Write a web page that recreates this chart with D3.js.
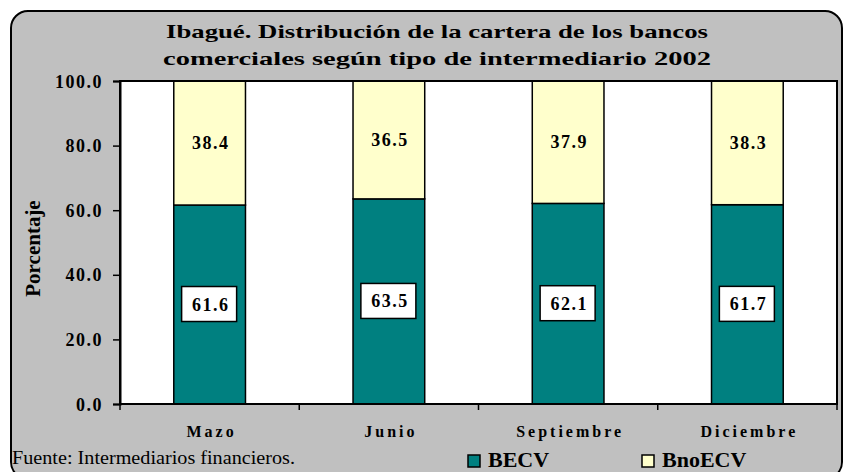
<!DOCTYPE html>
<html>
<head>
<meta charset="utf-8">
<script src="https://cdn.jsdelivr.net/npm/d3@7"></script>
<style>
  body { margin: 0; background: #fff; }
  text { font-family: "Liberation Serif", "Times New Roman", serif; }
</style>
</head>
<body>
<div id="chart"></div>
<script>
const categories = ["Mazo", "Junio", "Septiembre", "Diciembre"];
const becv = [61.6, 63.5, 62.1, 61.7];
const bnoecv = [38.4, 36.5, 37.9, 38.3];
const yTicks = [0, 20, 40, 60, 80, 100];
const seriesNames = ["BECV", "BnoECV"];
const seriesColors = ["#008080", "#ffffcc"];

const width = 845, height = 472;
const margin = { left: 120, right: 8, top: 81, bottom: 68 };

const svg = d3.select("#chart").append("svg")
    .attr("width", width)
    .attr("height", height);

// outer frame, bottom edge runs off the picture
svg.append("rect")
    .attr("x", 11).attr("y", 11)
    .attr("width", 831).attr("height", 468)
    .attr("rx", 17).attr("ry", 17)
    .attr("fill", "#c0c0c0")
    .attr("stroke", "#000")
    .attr("stroke-width", 2);

const plotW = width - margin.left - margin.right;
const plotH = height - margin.top - margin.bottom;

const x = d3.scaleBand()
    .domain(categories)
    .range([margin.left, margin.left + plotW])
    .paddingInner(0.6)
    .paddingOuter(0.3);

const y = d3.scaleLinear()
    .domain([0, 100])
    .range([margin.top + plotH, margin.top]);

svg.append("rect")
    .attr("x", margin.left).attr("y", margin.top)
    .attr("width", plotW).attr("height", plotH)
    .attr("fill", "#fff");

// title
const titleLines = ["Ibagué. Distribución de la cartera de los bancos",
                    "comerciales según tipo de intermediario 2002"];
svg.append("g").selectAll("text")
    .data(titleLines).enter().append("text")
    .attr("x", 437)
    .attr("y", (d, i) => 38 + i * 27)
    .attr("text-anchor", "middle")
    .attr("font-family", "DejaVu Serif, serif")
    .attr("font-weight", "bold")
    .attr("font-size", 19)
    .attr("textLength", (d, i) => i == 0 ? 542 : 548)
    .attr("lengthAdjust", "spacingAndGlyphs")
    .text(d => d);

// stacked bars
const rows = categories.map((c, i) => ({ cat: c, a: becv[i], b: bnoecv[i] }));

const bars = svg.append("g");
bars.selectAll("rect.becv")
    .data(rows).enter().append("rect")
    .attr("x", d => x(d.cat))
    .attr("width", x.bandwidth())
    .attr("y", d => y(d.a))
    .attr("height", d => y(0) - y(d.a))
    .attr("fill", seriesColors[0])
    .attr("stroke", "#000").attr("stroke-width", 1.5);

bars.selectAll("rect.bno")
    .data(rows).enter().append("rect")
    .attr("x", d => x(d.cat))
    .attr("width", x.bandwidth())
    .attr("y", d => y(d.a + d.b))
    .attr("height", d => y(d.a) - y(d.a + d.b))
    .attr("fill", seriesColors[1])
    .attr("stroke", "#000").attr("stroke-width", 1.5);

// labels, lower ones inside white boxes
const lab = svg.append("g");
rows.forEach(d => {
  const cx = x(d.cat) + x.bandwidth() / 2;
  const cy = y(d.a / 2);
  lab.append("rect")
      .attr("x", cx - 28).attr("y", cy - 18)
      .attr("width", 55).attr("height", 35)
      .attr("fill", "#fff").attr("stroke", "#000").attr("stroke-width", 1.5);
  lab.append("text")
      .attr("x", cx + 1).attr("y", cy + 6)
      .attr("text-anchor", "middle")
      .attr("font-weight", "bold").attr("font-size", 18)
      .attr("letter-spacing", 1.5)
      .text(d.a.toFixed(1));
  lab.append("text")
      .attr("x", cx + 1).attr("y", y(d.a + d.b / 2) + 6)
      .attr("text-anchor", "middle")
      .attr("font-weight", "bold").attr("font-size", 18)
      .attr("letter-spacing", 1.5)
      .text(d.b.toFixed(1));
});

// plot border
svg.append("rect")
    .attr("x", margin.left).attr("y", margin.top)
    .attr("width", plotW).attr("height", plotH)
    .attr("fill", "none")
    .attr("stroke", "#000").attr("stroke-width", 2);

// y axis
const yAxis = svg.append("g")
    .attr("transform", `translate(${margin.left},0)`)
    .call(d3.axisLeft(y).tickValues(yTicks).tickFormat(d3.format(".1f")).tickSize(7).tickPadding(10));
yAxis.select(".domain").attr("stroke-width", 2);
yAxis.selectAll(".tick line").attr("stroke-width", 1.5);
yAxis.selectAll("text")
    .attr("font-family", "Liberation Serif, serif")
    .attr("font-weight", "bold").attr("font-size", 18)
    .attr("letter-spacing", 1.5)
    .attr("dy", "0.34em")
    .attr("fill", "#000");

// x axis: ticks at category boundaries
const step = plotW / categories.length;
const xBounds = d3.range(categories.length + 1).map(i => margin.left + i * step);
svg.append("g").selectAll("line")
    .data(xBounds).enter().append("line")
    .attr("x1", d => d).attr("x2", d => d)
    .attr("y1", y(0)).attr("y2", y(0) + 6)
    .attr("stroke", "#000").attr("stroke-width", 1.5);

svg.append("g").selectAll("text")
    .data(categories).enter().append("text")
    .attr("x", d => x(d) + x.bandwidth() / 2 + 2)
    .attr("y", 437)
    .attr("text-anchor", "middle")
    .attr("font-weight", "bold").attr("font-size", 16)
    .attr("letter-spacing", 3)
    .text(d => d);

// y title
svg.append("text")
    .attr("transform", `translate(40,${(margin.top + y(0)) / 2 + 6}) rotate(-90)`)
    .attr("text-anchor", "middle")
    .attr("font-weight", "bold").attr("font-size", 21)
    .text("Porcentaje");

// source
svg.append("text")
    .attr("x", 12).attr("y", 464)
    .attr("font-size", 18)
    .attr("textLength", 283)
    .attr("lengthAdjust", "spacingAndGlyphs")
    .text("Fuente: Intermediarios financieros.");

// legend
const legendX = [468, 642];
const leg = svg.append("g");
seriesNames.forEach((n, i) => {
  leg.append("rect")
      .attr("x", legendX[i]).attr("y", 455)
      .attr("width", 12).attr("height", 12)
      .attr("fill", seriesColors[i])
      .attr("stroke", "#000").attr("stroke-width", 1.5);
  leg.append("text")
      .attr("x", legendX[i] + 20).attr("y", 467)
      .attr("font-weight", "bold").attr("font-size", 22)
      .text(n);
});
</script>
</body>
</html>
